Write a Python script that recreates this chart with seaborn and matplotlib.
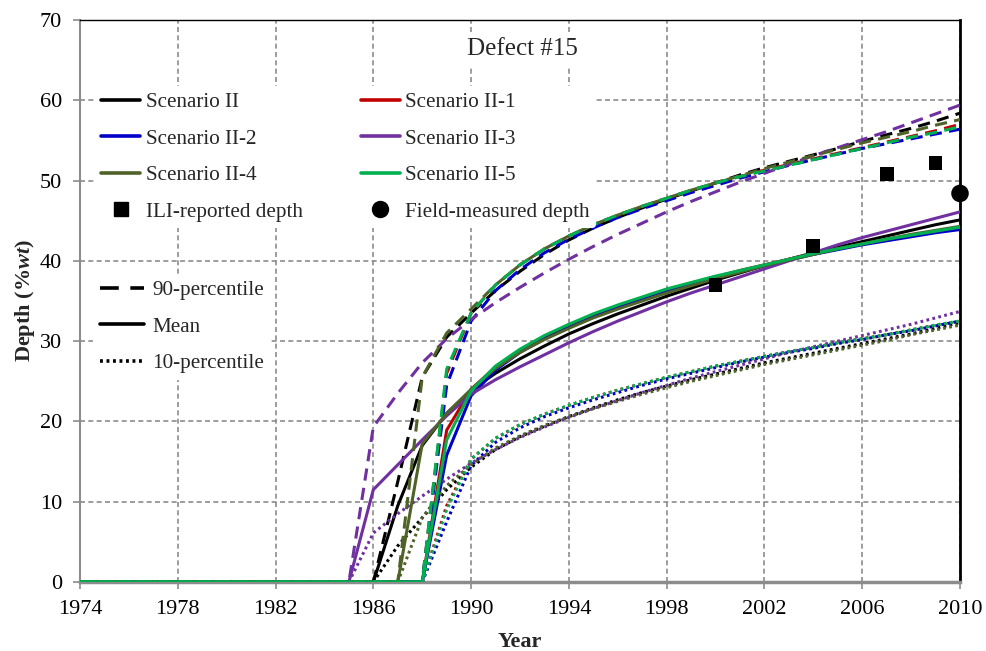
import matplotlib
matplotlib.use("Agg")
import matplotlib.pyplot as plt
import pandas as pd
import seaborn as sns
from matplotlib.lines import Line2D

# ---------------------------------------------------------------- data
YEARS = [1974, 1985, 1986, 1987, 1988, 1989, 1990, 1991, 1992, 1993, 1994,
         1995, 1996, 1997, 1998, 1999, 2000, 2001, 2002, 2003, 2004, 2005,
         2006, 2007, 2008, 2009, 2010]

SCENARIOS = ["Scenario II", "Scenario II-1", "Scenario II-2",
             "Scenario II-3", "Scenario II-4", "Scenario II-5"]

# mean depth (%wt)
MEAN_II = [0, 0, 0, 9.5, 17.0, 21.0, 23.9, 26.0, 27.8, 29.4, 30.9, 32.2, 33.4, 34.5,
           35.6, 36.6, 37.6, 38.5, 39.4, 40.2, 41.0, 41.7, 42.4, 43.1, 43.8, 44.5, 45.1]
MEAN_II_1 = [0, 0, 0, 0, 0, 18.9, 24.0, 26.8, 28.9, 30.5, 31.9, 33.2, 34.4, 35.4,
             36.4, 37.2, 38.0, 38.8, 39.5, 40.2, 40.9, 41.5, 42.1, 42.7, 43.2, 43.7, 44.2]
MEAN_II_2 = [0, 0, 0, 0, 0, 15.8, 23.2, 26.4, 28.6, 30.3, 31.7, 33.0, 34.2, 35.2,
             36.2, 37.1, 37.9, 38.7, 39.4, 40.1, 40.8, 41.4, 42.0, 42.5, 43.0, 43.5, 43.9]
MEAN_II_3 = [0, 0, 11.5, 14.6, 17.7, 20.7, 23.4, 25.2, 26.8, 28.3, 29.8, 31.2, 32.5, 33.7,
             34.9, 36.0, 37.0, 38.0, 39.0, 40.0, 41.0, 42.0, 42.9, 43.7, 44.5, 45.3, 46.1]
MEAN_II_4 = [0, 0, 0, 0, 17.2, 21.0, 24.0, 26.6, 28.6, 30.2, 31.6, 32.9, 34.0, 35.0,
             36.0, 36.9, 37.8, 38.6, 39.4, 40.1, 40.8, 41.5, 42.1, 42.7, 43.3, 43.8, 44.3]
MEAN_II_5 = [0, 0, 0, 0, 0, 17.7, 23.8, 26.9, 29.0, 30.7, 32.1, 33.4, 34.5, 35.5,
             36.5, 37.3, 38.1, 38.8, 39.5, 40.2, 40.9, 41.5, 42.1, 42.7, 43.2, 43.7, 44.2]

# 90-percentile depth (%wt)
P90_II = [0, 0, 0, 12.5, 25.5, 30.5, 33.5, 36.3, 38.7, 40.8, 42.6, 44.1, 45.4, 46.6,
          47.7, 48.7, 49.7, 50.7, 51.6, 52.4, 53.2, 54.0, 54.9, 55.7, 56.5, 57.4, 58.4]
P90_II_1 = [0, 0, 0, 0, 0, 26.0, 33.5, 37.0, 39.5, 41.5, 43.1, 44.5, 45.7, 46.8,
            47.8, 48.8, 49.7, 50.5, 51.3, 52.0, 52.7, 53.4, 54.1, 54.8, 55.5, 56.2, 57.0]
P90_II_2 = [0, 0, 0, 0, 0, 24.5, 32.5, 36.3, 38.9, 41.0, 42.7, 44.1, 45.4, 46.5,
            47.5, 48.5, 49.4, 50.3, 51.1, 51.9, 52.6, 53.3, 54.0, 54.6, 55.2, 55.8, 56.4]
P90_II_3 = [0, 0, 19.3, 23.5, 27.3, 30.3, 32.7, 34.8, 36.7, 38.5, 40.2, 41.8, 43.3, 44.7,
            46.1, 47.4, 48.6, 49.8, 50.9, 52.0, 53.1, 54.1, 55.1, 56.1, 57.2, 58.3, 59.4]
P90_II_4 = [0, 0, 0, 0, 25.5, 31.0, 34.0, 37.0, 39.5, 41.5, 43.1, 44.5, 45.7, 46.8,
            47.8, 48.8, 49.7, 50.6, 51.5, 52.3, 53.1, 53.9, 54.7, 55.4, 56.1, 56.9, 57.6]
P90_II_5 = [0, 0, 0, 0, 0, 26.5, 33.5, 37.0, 39.5, 41.5, 43.1, 44.5, 45.7, 46.8,
            47.8, 48.8, 49.7, 50.5, 51.2, 51.9, 52.6, 53.3, 54.0, 54.7, 55.4, 56.0, 56.7]

# 10-percentile depth (%wt)
P10_II = [0, 0, 0, 4.5, 8.0, 11.5, 14.3, 16.5, 18.1, 19.4, 20.6, 21.7, 22.7, 23.6,
          24.4, 25.2, 25.9, 26.6, 27.3, 27.9, 28.5, 29.1, 29.7, 30.3, 30.9, 31.6, 32.3]
P10_II_1 = [0, 0, 0, 0, 0, 9.5, 15.3, 17.9, 19.6, 20.9, 22.0, 23.0, 23.9, 24.7,
            25.5, 26.2, 26.9, 27.5, 28.1, 28.7, 29.2, 29.8, 30.3, 30.8, 31.4, 32.0, 32.5]
P10_II_2 = [0, 0, 0, 0, 0, 7.5, 14.5, 17.4, 19.2, 20.6, 21.7, 22.7, 23.6, 24.5,
            25.3, 26.0, 26.7, 27.4, 28.0, 28.6, 29.1, 29.7, 30.2, 30.8, 31.3, 31.9, 32.5]
P10_II_3 = [0, 0, 6.1, 8.5, 10.7, 12.8, 14.8, 16.5, 18.0, 19.3, 20.5, 21.6, 22.6, 23.6,
            24.5, 25.4, 26.2, 27.0, 27.8, 28.6, 29.3, 30.0, 30.7, 31.4, 32.1, 32.9, 33.7]
P10_II_4 = [0, 0, 0, 0, 8.0, 12.0, 14.6, 16.7, 18.2, 19.5, 20.6, 21.6, 22.5, 23.4,
            24.2, 25.0, 25.7, 26.4, 27.1, 27.7, 28.3, 28.9, 29.5, 30.1, 30.8, 31.4, 32.0]
P10_II_5 = [0, 0, 0, 0, 0, 9.0, 15.3, 17.9, 19.6, 20.9, 22.0, 23.0, 23.9, 24.7,
            25.5, 26.2, 26.9, 27.5, 28.1, 28.7, 29.2, 29.8, 30.3, 30.8, 31.4, 32.0, 32.5]

ILI_YEARS = [2000, 2004, 2007, 2009]
ILI_DEPTH = [37.0, 41.9, 50.8, 52.2]
FIELD_YEARS = [2010]
FIELD_DEPTH = [48.4]

X_TICKS = [1974, 1978, 1982, 1986, 1990, 1994, 1998, 2002, 2006, 2010]
Y_TICKS = [0, 10, 20, 30, 40, 50, 60, 70]

COLORS = ["#000000", "#C00000", "#0000C8", "#7030A0", "#4F6228", "#00B050"]

# ---------------------------------------------------------------- table
series = {
    "Mean": [MEAN_II, MEAN_II_1, MEAN_II_2, MEAN_II_3, MEAN_II_4, MEAN_II_5],
    "90-percentile": [P90_II, P90_II_1, P90_II_2, P90_II_3, P90_II_4, P90_II_5],
    "10-percentile": [P10_II, P10_II_1, P10_II_2, P10_II_3, P10_II_4, P10_II_5],
}
rows = []
for stat, values in series.items():
    for scen, vals in zip(SCENARIOS, values):
        for yr, v in zip(YEARS, vals):
            rows.append({"Year": yr, "Depth": v, "Scenario": scen, "Stat": stat})
df = pd.DataFrame(rows)

# ---------------------------------------------------------------- style
sns.set_theme(style="white")
plt.rcParams["font.family"] = ["Liberation Serif", "DejaVu Serif"]
plt.rcParams["mathtext.fontset"] = "custom"
plt.rcParams["mathtext.rm"] = "Liberation Serif"
plt.rcParams["mathtext.it"] = "Liberation Serif:italic"
plt.rcParams["mathtext.bf"] = "Liberation Serif:bold"
plt.rcParams["mathtext.bfit"] = "Liberation Serif:italic:bold"

FS = 15.2
TICK_FS = 16
LW = 2.2
DASHES = {"Mean": "", "90-percentile": (4.0, 2.4), "10-percentile": (0.9, 1.1)}

fig = plt.figure(figsize=(9.86, 6.51), dpi=100)
ax = fig.add_axes([80 / 986, 1 - 582 / 651, 880 / 986, 562 / 651])

sns.lineplot(data=df, x="Year", y="Depth", hue="Scenario", style="Stat",
             hue_order=SCENARIOS, style_order=["10-percentile", "90-percentile", "Mean"],
             palette=COLORS, dashes=DASHES, linewidth=LW, errorbar=None,
             legend=False, ax=ax, zorder=3)

sns.scatterplot(x=ILI_YEARS, y=ILI_DEPTH, marker="s", s=100, color="black",
                edgecolor="none", ax=ax, zorder=5, clip_on=False)
sns.scatterplot(x=FIELD_YEARS, y=FIELD_DEPTH, marker="o", s=160, color="black",
                edgecolor="none", ax=ax, zorder=5, clip_on=False)

ax.set_xlim(1974, 2010)
ax.set_ylim(0, 70)
ax.set_xticks(X_TICKS)
ax.set_yticks(Y_TICKS)
ax.tick_params(axis="both", labelsize=TICK_FS, colors="black", length=5, width=1.2,
               direction="out")
ax.tick_params(axis="x", pad=8, color="#8c8c8c", bottom=True)
ax.tick_params(axis="y", pad=8, color="#8c8c8c", left=True)

ax.grid(True, color="#8c8c8c", linestyle=(0, (3, 2)), linewidth=1.2, zorder=0)
ax.set_axisbelow(True)

for side, col, lw in [("left", "#8c8c8c", 1.5), ("bottom", "#8c8c8c", 2.5),
                      ("top", "black", 1.0), ("right", "black", 2.0)]:
    ax.spines[side].set_visible(True)
    ax.spines[side].set_color(col)
    ax.spines[side].set_linewidth(lw)

ax.set_xlabel("Year", fontsize=16, fontweight="bold", labelpad=9)
ax.set_ylabel(r"Depth (%$\mathbfit{wt}$)", fontsize=16, fontweight="bold",
              labelpad=2)

ax.text(0.503, 0.948, "Defect #15", transform=ax.transAxes, ha="center",
        va="center", fontsize=18, zorder=6,
        bbox=dict(facecolor="white", edgecolor="none", pad=4))

# ---------------------------------------------------------------- legends
def line_handle(color, ls="-"):
    return Line2D([], [], color=color, linewidth=2.6, linestyle=ls)

h = {s: line_handle(c) for s, c in zip(SCENARIOS, COLORS)}
ili_h = Line2D([], [], color="black", marker="s", linestyle="none", markersize=9.5)
field_h = Line2D([], [], color="black", marker="o", linestyle="none", markersize=11.5)

# two columns filled row by row
handles1 = [h["Scenario II"], h["Scenario II-2"], h["Scenario II-4"], ili_h,
            h["Scenario II-1"], h["Scenario II-3"], h["Scenario II-5"], field_h]
labels1 = ["Scenario II", "Scenario II-2", "Scenario II-4", "ILI-reported depth",
           "Scenario II-1", "Scenario II-3", "Scenario II-5", "Field-measured depth"]
leg1 = ax.legend(handles1, labels1, ncol=2, loc="upper left",
                 bbox_to_anchor=(0.017, 0.882), fontsize=FS, frameon=True,
                 facecolor="white", edgecolor="none", framealpha=1,
                 handlelength=1.85, handletextpad=0.25, columnspacing=2.75,
                 labelspacing=0.79, borderpad=0.3, borderaxespad=0)
leg1.set_zorder(6)
ax.add_artist(leg1)

handles2 = [Line2D([], [], color="black", linewidth=2.6, dashes=(5.2, 3.2)),
            Line2D([], [], color="black", linewidth=2.6),
            Line2D([], [], color="black", linewidth=2.6, dashes=(0.8, 1.0))]
labels2 = ["90-percentile", "Mean", "10-percentile"]
leg2 = ax.legend(handles2, labels2, loc="upper left",
                 bbox_to_anchor=(0.015, 0.548), fontsize=FS, frameon=True,
                 facecolor="white", edgecolor="none", framealpha=1,
                 handlelength=2.1, handletextpad=0.4, labelspacing=0.8,
                 borderpad=0.3, borderaxespad=0)
leg2.set_zorder(6)

fig.savefig("out.png", dpi=100)
